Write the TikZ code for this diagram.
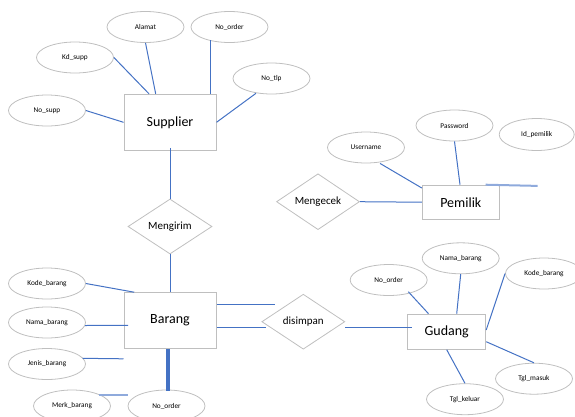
\documentclass[tikz,border=0pt]{standalone}
\usepackage{fontspec}
\setmainfont{Carlito}
\usetikzlibrary{shapes.geometric,calc}
\definecolor{lineblue}{HTML}{4472C4}
\definecolor{lightblue}{HTML}{8FAADC}
\definecolor{bordergray}{HTML}{BFBFBF}
\begin{document}
\begin{tikzpicture}[x=1pt,y=-1pt,
  entity/.style={draw=bordergray,line width=1pt,minimum width=92pt,minimum height=56pt,inner sep=0pt,font=\fontsize{14}{16}\selectfont},
  attr/.style={ellipse,draw=bordergray,line width=0.8pt,minimum width=77pt,minimum height=31pt,inner sep=0pt,font=\fontsize{7.3}{9}\selectfont},
  rel/.style={diamond,draw=bordergray,line width=0.8pt,minimum width=84pt,minimum height=55pt,inner sep=0pt,font=\fontsize{11}{13}\selectfont},
  link/.style={draw=lineblue,line width=1pt},
  lightlink/.style={draw=lightblue,line width=2pt},
  thicklink/.style={draw=lineblue,line width=4pt}]
\path[use as bounding box,clip] (0,0) rectangle (575,416);
% entities
\node[entity] (supplier) at (170,122.3) {Supplier};
\node[entity] (barang) at (170,320.7) {Barang};
\node[entity,minimum width=78pt,minimum height=35pt] (gudang) at (446.7,331.7) {Gudang};
\node[entity,minimum width=77pt,minimum height=34pt] (pemilik) at (460.8,202.2) {Pemilik};
% relations
\node[rel] (mengirim) at (170,226.5) {Mengirim};
\node[rel,minimum width=83pt] (disimpan) at (303.3,321.7) {disimpan};
\node[rel,minimum width=83pt] (mengecek) at (318,201.7) {Mengecek};
% supplier attributes
\node[attr] (alamat) at (145.5,27) {Alamat};
\node[attr] (noorderA) at (229.5,27) {No\_order};
\node[attr] (kdsupp) at (75,57.5) {Kd\_supp};
\node[attr] (nosupp) at (47,110.5) {No\_supp};
\node[attr] (notlp) at (271.5,78.5) {No\_tlp};
% barang attributes
\node[attr] (kodebarangA) at (47,283.5) {Kode\_barang};
\node[attr] (namabarangA) at (47,322.5) {Nama\_barang};
\node[attr] (jenisbarang) at (47,364) {Jenis\_barang};
\node[attr,minimum height=32pt] (merkbarang) at (72,406) {Merk\_barang};
\node[attr,minimum height=32pt] (noorderB) at (166.5,406) {No\_order};
% gudang attributes
\node[attr] (noorderC) at (388.7,280) {No\_order};
\node[attr] (namabarangC) at (460.7,258.3) {Nama\_barang};
\node[attr] (kodebarangC) at (544,273.5) {Kode\_barang};
\node[attr] (tglmasuk) at (534,378.7) {Tgl\_masuk};
\node[attr] (tglkeluar) at (465,399.2) {Tgl\_keluar};
% pemilik attributes
\node[attr] (username) at (366,147.5) {Username};
\node[attr] (password) at (454.5,125.5) {Password};
\node[attr,minimum width=75pt,minimum height=32pt] (idpemilik) at (536.7,134.5) {Id\_pemilik};
% connectors: supplier
\draw[link] (kdsupp.east) -- ($(supplier.north)+(-21,0)$);
\draw[link] (alamat.south) -- ($(supplier.north)+(-14.3,0)$);
\draw[link] ($(noorderA)+(-19.2,13)$) -- ($(supplier.north)+(40.3,0)$);
\draw[link] ($(notlp)+(-15.5,14.8)$) -- (supplier.east);
\draw[link] (nosupp.east) -- (supplier.west);
\draw[link] ($(supplier.south)+(0,-3)$) -- (mengirim.north);
\draw[link] (mengirim.south) -- (barang.north);
% connectors: barang
\draw[link] (kodebarangA.east) -- ($(barang.north west)+(10.7,0)$);
\draw[link] ($(namabarangA)+(38,3)$) -- ($(barang)+(-42,4.6)$);
\draw[link] ($(jenisbarang)+(35.7,-5.7)$) -- ($(barang.south west)+(0,9.6)$);
\draw[thicklink] ($(barang.south)+(-2,0)$) -- ($(noorderB.north)+(1.5,1)$);
\draw[lightlink] ($(merkbarang)+(27.3,-11.3)$) -- ($(noorderB)+(-38.8,-11.3)$);
\draw[link] ($(barang.east)+(0,-16.4)$) -- ($(disimpan)+(-28.3,-17.4)$);
\draw[link] ($(barang.east)+(0,6.3)$) -- ($(disimpan.west)+(5,5.3)$);
% connectors: gudang
\draw[link] ($(disimpan.east)+(0,5.6)$) -- ($(gudang.west)+(5,-4.4)$);
\draw[link] ($(noorderC)+(19.6,11.7)$) -- ($(gudang.north west)+(21.3,0)$);
\draw[link] (namabarangC.south) -- ($(gudang.north)+(10,0)$);
\draw[link] (kodebarangC.west) -- ($(gudang.east)+(0,-1.7)$);
\draw[link] ($(gudang.east)+(0,10)$) -- (tglmasuk.north);
\draw[link] (gudang.south) -- (tglkeluar.north);
% connectors: pemilik
\draw[link] (mengecek.east) -- (pemilik.west);
\draw[link] ($(username.south)+(14,0)$) -- ($(pemilik.north west)+(0,3.3)$);
\draw[link] (password.south) -- ($(pemilik.north)+(-0.8,0)$);
\coordinate (pemilikend) at ($(idpemilik.south)+(1,35)$);
\draw[lightlink] ($(pemilik.north east)+(-14.3,0)$) -- (pemilikend);
\end{tikzpicture}
\end{document}
